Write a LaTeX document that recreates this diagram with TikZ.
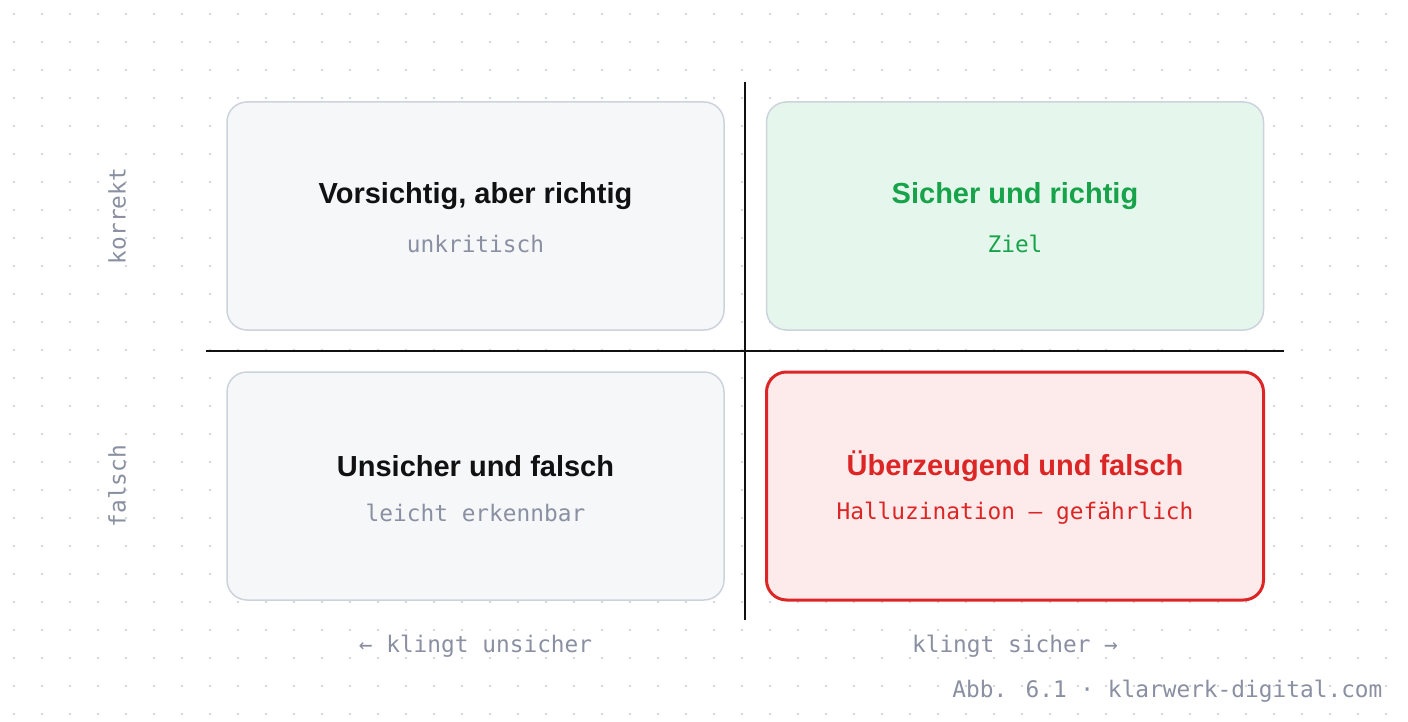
\documentclass[tikz,border=0pt]{standalone}
\usepackage{fontspec}
\setmainfont{Liberation Sans}
\newfontfamily\monof{DejaVu Sans Mono}
\begin{document}
\definecolor{dotc}{HTML}{D2D6DC}
\definecolor{gfill}{HTML}{F6F7F9}
\definecolor{gline}{HTML}{CDD3DD}
\definecolor{sub}{HTML}{8A90A2}
\definecolor{grnfill}{HTML}{E5F7EC}
\definecolor{grn}{HTML}{16A34A}
\definecolor{redfill}{HTML}{FDEAEA}
\definecolor{red1}{HTML}{DC2626}
\definecolor{ink}{HTML}{111111}
\begin{tikzpicture}[x=1pt,y=-1pt,
 box/.style={draw=gline,line width=1.5pt,fill=gfill,rounded corners=20pt,minimum width=497pt,minimum height=228pt,inner sep=0pt},
 ttl/.style={font=\bfseries\fontsize{29}{33}\selectfont,text=ink},
 st/.style={font=\monof\fontsize{22.8}{26}\selectfont,text=sub},
 ax/.style={line width=2.2pt,draw=ink}]
\useasboundingbox (0,0) rectangle (1408,722);
\fill[white] (0,0) rectangle (1408,722);
\foreach \i in {0,...,50}{\foreach \j in {0,...,25}{\fill[dotc] (14+28*\i,14+28*\j) circle (1.4);}}
\node[box] (tl) at (475.5,216) {};
\node[box,fill=grnfill] (tr) at (1015,216) {};
\node[box] (bl) at (475.5,486) {};
\node[box,draw=red1,fill=redfill,line width=3pt] (br) at (1015,486) {};
\node[ttl] (t1) at (475.5,196) {Vorsichtig, aber richtig};
\node[st] (s1) at (475.5,244) {unkritisch};
\node[ttl,text=grn] (t2) at (1015,196) {Sicher und richtig};
\node[st,text=grn] (s2) at (1015,244) {Ziel};
\node[ttl] (t3) at (475.5,466) {Unsicher und falsch};
\node[st] (s3) at (475.5,513) {leicht erkennbar};
\node[ttl,text=red1] (t4) at (1015,466) {Überzeugend und falsch};
\node[st,text=red1] (s4) at (1015,513) {Halluzination — gefährlich};
\coordinate (vt) at (745,82); \coordinate (vb) at (745,620);
\coordinate (hl) at (206,351); \coordinate (hr) at (1284,351);
\draw[ax] (vt) -- (vb);
\draw[ax] (hl) -- (hr);
\node[st,rotate=90] (k) at (117,216) {korrekt};
\node[st,rotate=90] (f) at (117,486) {falsch};
\node[st] (xl) at (475.5,646) {← klingt unsicher};
\node[st] (xr) at (1015,646) {klingt sicher →};
\node[st,anchor=east] (ft) at (1386,691) {Abb. 6.1 · klarwerk-digital.com};
\end{tikzpicture}
\end{document}
